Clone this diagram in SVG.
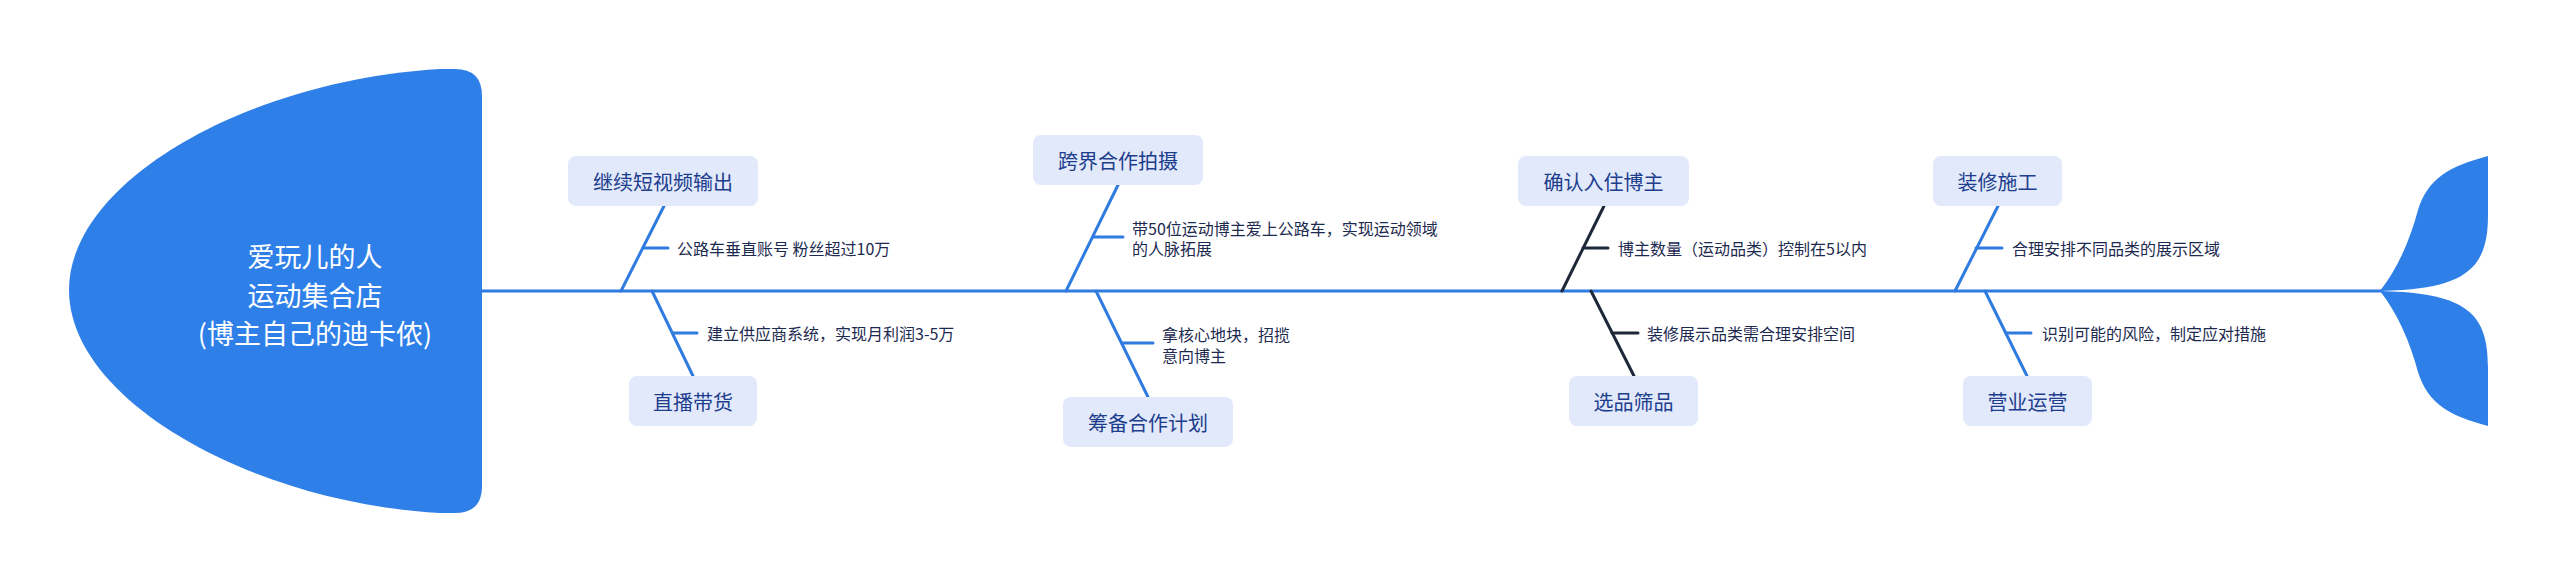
<svg xmlns="http://www.w3.org/2000/svg" width="2560" height="582" viewBox="0 0 2560 582">
<style>
text{font-family:"Noto Sans CJK SC","Noto Sans",sans-serif;dominant-baseline:central}
.box{fill:#e1e9fb}
.bt{font-size:20px;fill:#1d3d8d;text-anchor:middle}
.st{font-size:16px;fill:#1c2a50}
.ht{font-size:27px;fill:#ffffff;text-anchor:middle}
.bl{stroke:#2f7be0;stroke-width:3;fill:none;stroke-linecap:round}
.dk{stroke:#1e2838;stroke-width:3;fill:none;stroke-linecap:round}
.fish{fill:#2f7fe8}
</style>
<rect width="2560" height="582" fill="#ffffff"/>
<g id="connectors">
<line class="bl" x1="482" y1="291" x2="2382" y2="291"/>
<line class="bl" x1="621" y1="291" x2="664" y2="206"/>
<line class="bl" x1="643" y1="248" x2="668" y2="248"/>
<line class="bl" x1="652" y1="291" x2="693" y2="376"/>
<line class="bl" x1="673" y1="333" x2="697" y2="333"/>
<line class="bl" x1="1066" y1="291" x2="1118" y2="185"/>
<line class="bl" x1="1093" y1="237" x2="1123" y2="237"/>
<line class="bl" x1="1096" y1="291" x2="1148" y2="397"/>
<line class="bl" x1="1122" y1="343" x2="1153" y2="343"/>
<line class="dk" x1="1562" y1="291" x2="1604" y2="206"/>
<line class="dk" x1="1583" y1="248" x2="1608" y2="248"/>
<line class="dk" x1="1591" y1="291" x2="1634" y2="376"/>
<line class="dk" x1="1612" y1="333" x2="1638" y2="333"/>
<line class="bl" x1="1955" y1="291" x2="1998" y2="206"/>
<line class="bl" x1="1976" y1="248" x2="2002" y2="248"/>
<line class="bl" x1="1985" y1="291" x2="2027" y2="376"/>
<line class="bl" x1="2006" y1="333" x2="2031" y2="333"/>
</g>
<g id="head">
<path class="fish" d="M440,69 L455,69 Q482,69 482,96 L482,486 Q482,513 455,513 L440,513 C250,502 69,400 69,290 C69,180 250,80 440,69 Z"/>
<text class="ht" x="315" y="255">爱玩儿的人</text>
<text class="ht" x="315" y="294">运动集合店</text>
<text class="ht" x="315" y="332">(博主自己的迪卡侬)</text>
</g>
<g id="tail">
<path class="fish" d="M2380,291 C2398,268 2410,240 2418,210 C2428,178 2450,166 2488,156 L2488,215 C2488,262 2472,285 2403,290 Z"/>
<path class="fish" d="M2380,291 C2398,314 2410,342 2418,372 C2428,404 2450,416 2488,426 L2488,367 C2488,320 2472,297 2403,292 Z"/>
</g>
<g id="n1">
<rect class="box" x="568" y="156" width="190" height="50" rx="8"/>
<text class="bt" x="663" y="181">继续短视频输出</text>
</g>
<g id="n1a"><text class="st" x="677" y="248">公路车垂直账号 粉丝超过10万</text></g>
<g id="n2">
<rect class="box" x="629" y="376" width="128" height="50" rx="8"/>
<text class="bt" x="693" y="401">直播带货</text>
</g>
<g id="n2a"><text class="st" x="707" y="333">建立供应商系统，实现月利润3-5万</text></g>
<g id="n3">
<rect class="box" x="1033" y="135" width="170" height="50" rx="8"/>
<text class="bt" x="1118" y="160">跨界合作拍摄</text>
</g>
<g id="n3a"><text class="st" x="1132" y="228">带50位运动博主爱上公路车，实现运动领域</text><text class="st" x="1132" y="248">的人脉拓展</text></g>
<g id="n4">
<rect class="box" x="1063" y="397" width="170" height="50" rx="8"/>
<text class="bt" x="1148" y="422">筹备合作计划</text>
</g>
<g id="n4a"><text class="st" x="1162" y="334">拿核心地块，招揽</text><text class="st" x="1162" y="355">意向博主</text></g>
<g id="n5">
<rect class="box" x="1518" y="156" width="171" height="50" rx="8"/>
<text class="bt" x="1603.5" y="181">确认入住博主</text>
</g>
<g id="n5a"><text class="st" x="1618" y="248">博主数量（运动品类）控制在5以内</text></g>
<g id="n6">
<rect class="box" x="1569" y="376" width="129" height="50" rx="8"/>
<text class="bt" x="1633.5" y="401">选品筛品</text>
</g>
<g id="n6a"><text class="st" x="1647" y="333">装修展示品类需合理安排空间</text></g>
<g id="n7">
<rect class="box" x="1933" y="156" width="129" height="50" rx="8"/>
<text class="bt" x="1997.5" y="181">装修施工</text>
</g>
<g id="n7a"><text class="st" x="2012" y="248">合理安排不同品类的展示区域</text></g>
<g id="n8">
<rect class="box" x="1963" y="376" width="129" height="50" rx="8"/>
<text class="bt" x="2027.5" y="401">营业运营</text>
</g>
<g id="n8a"><text class="st" x="2042" y="333">识别可能的风险，制定应对措施</text></g>
</svg>
